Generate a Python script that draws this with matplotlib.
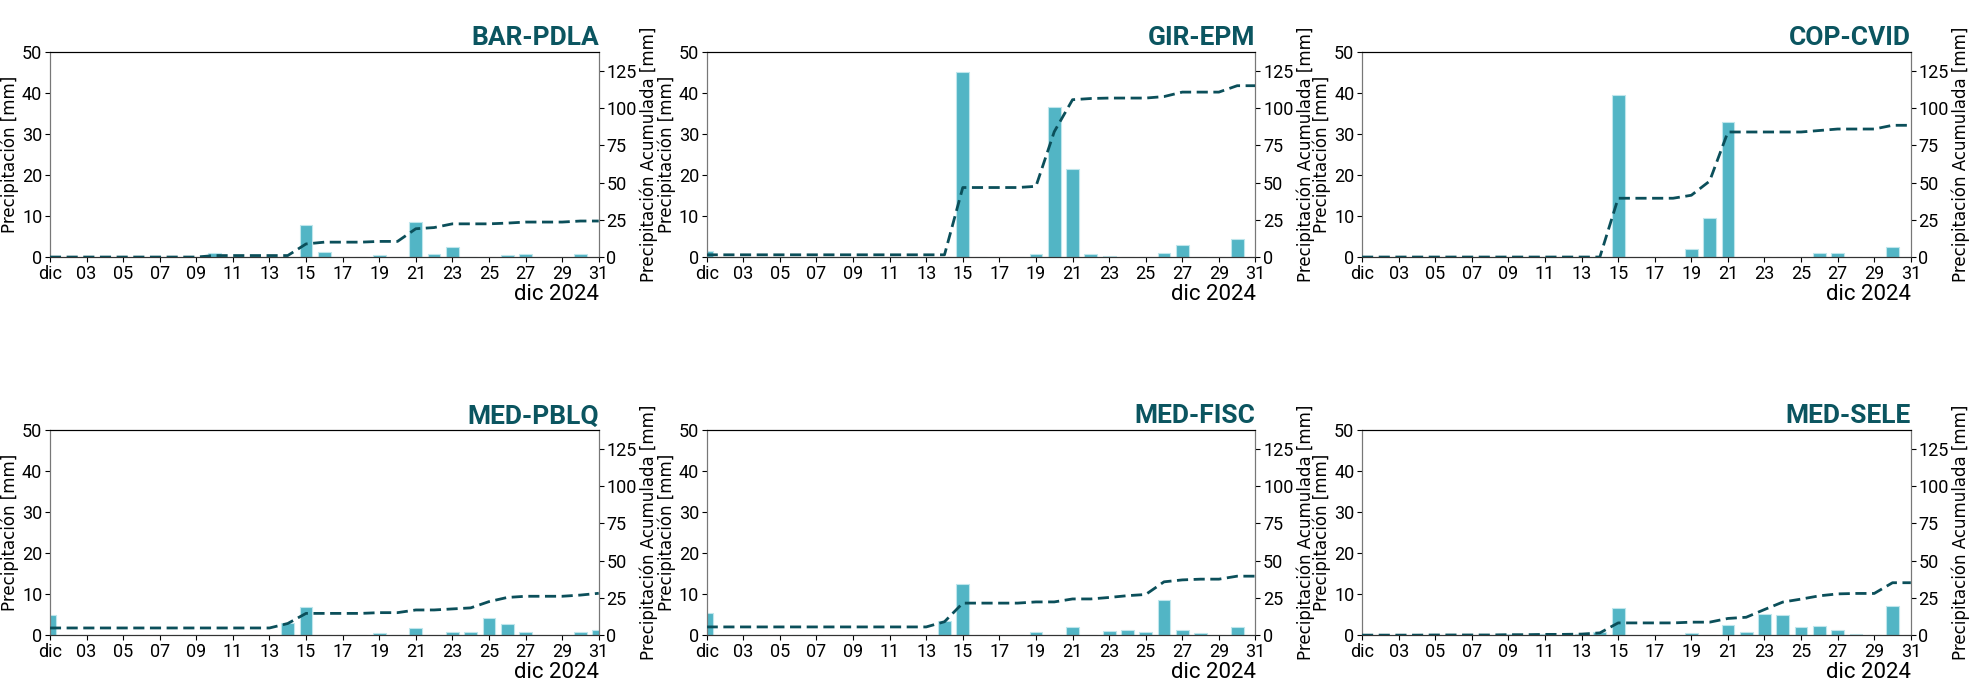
import numpy as np
import matplotlib
matplotlib.use("Agg")
import matplotlib.pyplot as plt
from matplotlib import font_manager as fm

days = np.arange(1, 32)

stations = ["BAR-PDLA", "GIR-EPM", "COP-CVID", "MED-PBLQ", "MED-FISC", "MED-SELE"]

# daily precipitation [mm], {day: value}
bar_pdla = {10: 1.0, 15: 7.8, 16: 1.2, 19: 0.5, 21: 8.5, 22: 0.8, 23: 2.5, 26: 0.5, 27: 0.7, 30: 0.7}
gir_epm = {1: 1.5, 15: 45.2, 19: 0.8, 20: 36.7, 21: 21.5, 22: 0.8, 23: 0.3, 26: 1.0, 27: 3.0, 30: 4.3}
cop_cvid = {15: 39.5, 19: 2.0, 20: 9.5, 21: 33.0, 26: 1.0, 27: 1.0, 30: 2.5}
med_pblq = {1: 4.8, 14: 3.0, 15: 6.8, 19: 0.5, 21: 1.8, 23: 0.7, 24: 0.7, 25: 4.2,
            26: 2.8, 27: 0.8, 30: 0.8, 31: 1.2}
med_fisc = {1: 5.5, 14: 3.5, 15: 12.5, 19: 0.8, 21: 2.0, 23: 1.0, 24: 1.2, 25: 0.8,
            26: 8.5, 27: 1.3, 28: 0.5, 30: 2.0}
med_sele = {5: 0.1, 9: 0.2, 11: 0.2, 13: 0.2, 14: 0.8, 15: 6.7, 19: 0.5, 21: 2.5, 22: 0.8,
            23: 5.2, 24: 5.0, 25: 2.0, 26: 2.2, 27: 1.3, 28: 0.3, 30: 7.2}

series = [bar_pdla, gir_epm, cop_cvid, med_pblq, med_fisc, med_sele]

tick_days = list(range(1, 32, 2))
tick_labels = ["dic"] + [f"{d:02d}" for d in tick_days[1:]]

names = {f.name for f in fm.fontManager.ttflist}
narrow = "Liberation Sans Narrow" if "Liberation Sans Narrow" in names else "Roboto"

BAR_C = "#52b5c5"
LINE_C = "#0b4f5a"
TITLE_C = "#0b5560"

fig = plt.figure(figsize=(19.74, 6.8), dpi=100)
lefts = [0.0253, 0.358, 0.690]
width = 0.278
bottoms = [0.622, 0.066]
height = 0.301

for i, (name, data) in enumerate(zip(stations, series)):
    r, c = divmod(i, 3)
    ax = fig.add_axes([lefts[c], bottoms[r], width, height])
    vals = np.array([data.get(d, 0.0) for d in days])
    ax.bar(days, vals, width=0.7, color=BAR_C, edgecolor="#bfe6ec", linewidth=0.8, zorder=2)
    ax.set_xlim(1, 31)
    ax.set_ylim(0, 50)
    ax.set_xticks(tick_days)
    ax.set_xticklabels(tick_labels)
    ax.set_yticks([0, 10, 20, 30, 40, 50])
    ax.tick_params(labelsize=13, pad=2)
    for lab in ax.get_xticklabels() + ax.get_yticklabels():
        lab.set_family(narrow)
    ax.set_ylabel("Precipitación [mm]", fontsize=12, labelpad=2)
    ax.set_title(name, loc="right", fontsize=19, fontweight="bold", color=TITLE_C,
                 family=narrow, pad=5)
    ax.text(1.0, -0.13, "dic 2024", transform=ax.transAxes, ha="right", va="top",
            fontsize=16, family=narrow)

    ax2 = ax.twinx()
    ax2.plot(days, np.cumsum(vals), color=LINE_C, lw=2, dashes=(4, 2), zorder=3)
    ax2.set_ylim(0, 137.5)
    ax2.set_yticks([0, 25, 50, 75, 100, 125])
    ax2.tick_params(labelsize=13, pad=2)
    for lab in ax2.get_yticklabels():
        lab.set_family(narrow)
    ax2.set_ylabel("Precipitación Acumulada [mm]", fontsize=12, labelpad=2)
    for a in (ax, ax2):
        a.spines["left"].set_color("#777777")
        a.spines["right"].set_color("#777777")
        a.spines["bottom"].set_color("#333333")

fig.savefig("out.png", dpi=100)
